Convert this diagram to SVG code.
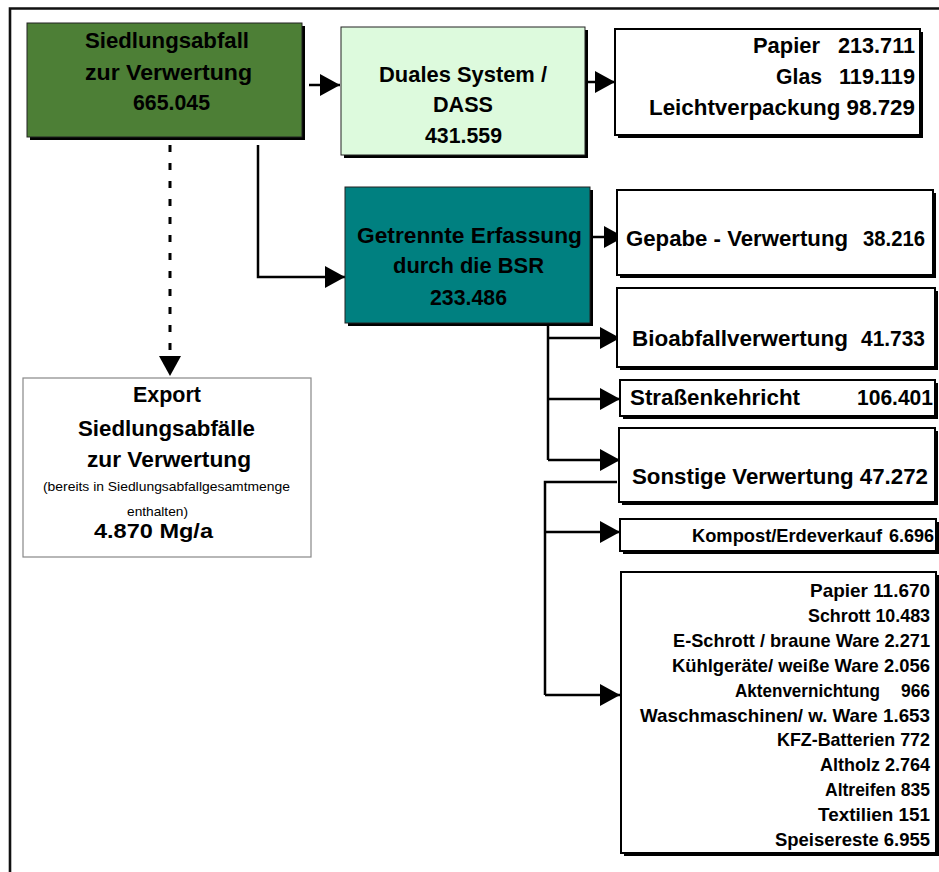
<svg xmlns="http://www.w3.org/2000/svg" width="939" height="872" viewBox="0 0 939 872">
<defs>
<style>
text{font-family:"Liberation Sans",Arial,sans-serif;fill:#000}
.b{font-weight:bold;font-size:22px}
.m{font-weight:bold;font-size:19px}
.s{font-size:13px}
.sh{fill:#000}
.wb{fill:#fff;stroke:#000;stroke-width:2}
.cb{stroke:#222;stroke-width:1}
.c{fill:none;stroke:#000;stroke-width:2.5}
</style>
<marker id="ah" markerUnits="userSpaceOnUse" markerWidth="20" markerHeight="22" refX="20" refY="11" orient="auto" viewBox="0 0 20 22"><path d="M0,0 L20,11 L0,22 z" fill="#000"/></marker>
</defs>
<rect width="939" height="872" fill="#fff"/>
<path d="M10,872 V8.5 H939" fill="none" stroke="#111" stroke-width="2.6"/>

<g id="connectors">
<path class="c" d="M309,85 H340" marker-end="url(#ah)"/>
<path class="c" d="M585,82 H615" marker-end="url(#ah)"/>
<path class="c" d="M258,145 V277 H345" marker-end="url(#ah)"/>
<path fill="none" stroke="#000" stroke-width="3" stroke-dasharray="7 11" d="M170,145 V376" marker-end="url(#ah)"/>
<path class="c" d="M592,237 H624" marker-end="url(#ah)"/>
<path class="c" d="M548,326 V460"/>
<path class="c" d="M548,338 H620" marker-end="url(#ah)"/>
<path class="c" d="M548,399 H620" marker-end="url(#ah)"/>
<path class="c" d="M548,460 H620" marker-end="url(#ah)"/>
<path class="c" d="M617,482 H545 V695"/>
<path class="c" d="M545,532 H620" marker-end="url(#ah)"/>
<path class="c" d="M545,695 H620" marker-end="url(#ah)"/>
</g>

<g id="siedlungsabfall">
<rect class="sh" x="30" y="26" width="275" height="114"/>
<rect class="cb" x="27" y="23" width="275" height="114" fill="#4d7f36"/>
<text class="b" x="85" y="48" textLength="164" lengthAdjust="spacingAndGlyphs">Siedlungsabfall</text>
<text class="b" x="85" y="80" textLength="167" lengthAdjust="spacingAndGlyphs">zur Verwertung</text>
<text class="b" x="133" y="110" textLength="77" lengthAdjust="spacingAndGlyphs">665.045</text>
</g>

<g id="duales">
<rect class="sh" x="344" y="30" width="244" height="128"/>
<rect class="cb" x="341" y="27" width="244" height="128" fill="#ddfadd"/>
<text class="b" x="379" y="82" textLength="168" lengthAdjust="spacingAndGlyphs">Duales System /</text>
<text class="b" x="433" y="112" textLength="60" lengthAdjust="spacingAndGlyphs">DASS</text>
<text class="b" x="425" y="143" textLength="77" lengthAdjust="spacingAndGlyphs">431.559</text>
</g>

<g id="dual-details">
<rect class="sh" x="618" y="32" width="305" height="106"/>
<rect class="wb" x="615" y="29" width="305" height="106"/>
<text class="b" x="753" y="53" textLength="67" lengthAdjust="spacingAndGlyphs">Papier</text>
<text class="b" x="838" y="53" textLength="77" lengthAdjust="spacingAndGlyphs">213.711</text>
<text class="b" x="776" y="84" textLength="46" lengthAdjust="spacingAndGlyphs">Glas</text>
<text class="b" x="839" y="84" textLength="76" lengthAdjust="spacingAndGlyphs">119.119</text>
<text class="b" x="649" y="115" textLength="266" lengthAdjust="spacingAndGlyphs">Leichtverpackung 98.729</text>
</g>

<g id="getrennte">
<rect class="sh" x="348" y="190" width="245" height="136"/>
<rect class="cb" x="345" y="187" width="245" height="136" fill="#008080"/>
<text class="b" x="357" y="243" textLength="225" lengthAdjust="spacingAndGlyphs">Getrennte Erfassung</text>
<text class="b" x="393" y="273" textLength="151" lengthAdjust="spacingAndGlyphs">durch die BSR</text>
<text class="b" x="430" y="305" textLength="77" lengthAdjust="spacingAndGlyphs">233.486</text>
</g>

<g id="export">
<rect x="23" y="378" width="288" height="179" fill="#fff" stroke="#888" stroke-width="1.2"/>
<text class="b" x="133" y="402" textLength="68" lengthAdjust="spacingAndGlyphs">Export</text>
<text class="b" x="78" y="436" textLength="177" lengthAdjust="spacingAndGlyphs">Siedlungsabfälle</text>
<text class="b" x="87" y="467" textLength="164" lengthAdjust="spacingAndGlyphs">zur Verwertung</text>
<text class="s" x="43" y="491" textLength="247" lengthAdjust="spacingAndGlyphs">(bereits in Siedlungsabfallgesamtmenge</text>
<text class="s" x="127" y="516" textLength="61" lengthAdjust="spacingAndGlyphs">enthalten)</text>
<text class="b" x="94" y="538" font-size="20" textLength="119" lengthAdjust="spacingAndGlyphs" style="font-size:20px">4.870 Mg/a</text>
</g>

<g id="gepabe">
<rect class="sh" x="620" y="193" width="316" height="85"/>
<rect class="wb" x="617" y="190" width="316" height="85"/>
<text class="b" x="626" y="246" textLength="222" lengthAdjust="spacingAndGlyphs">Gepabe - Verwertung</text>
<text class="b" x="863" y="246" textLength="62" lengthAdjust="spacingAndGlyphs">38.216</text>
</g>

<g id="bioabfall">
<rect class="sh" x="620" y="291" width="318" height="79"/>
<rect class="wb" x="617" y="288" width="318" height="79"/>
<text class="b" x="632" y="346" textLength="216" lengthAdjust="spacingAndGlyphs">Bioabfallverwertung</text>
<text class="b" x="861" y="346" textLength="64" lengthAdjust="spacingAndGlyphs">41.733</text>
</g>

<g id="strassenkehricht">
<rect class="sh" x="623" y="383" width="315" height="36"/>
<rect class="wb" x="620" y="380" width="315" height="36"/>
<text class="b" x="630" y="405" textLength="170" lengthAdjust="spacingAndGlyphs">Straßenkehricht</text>
<text class="b" x="857" y="405" textLength="76" lengthAdjust="spacingAndGlyphs">106.401</text>
</g>

<g id="sonstige">
<rect class="sh" x="622" y="431" width="316" height="74"/>
<rect class="wb" x="619" y="428" width="316" height="74"/>
<text class="b" x="632" y="484" textLength="296" lengthAdjust="spacingAndGlyphs">Sonstige Verwertung 47.272</text>
</g>

<g id="kompost">
<rect class="sh" x="623" y="522" width="316" height="32"/>
<rect class="wb" x="620" y="519" width="316" height="32"/>
<text class="m" x="692" y="542" textLength="190" lengthAdjust="spacingAndGlyphs">Kompost/Erdeverkauf</text>
<text class="m" x="889" y="542" textLength="45" lengthAdjust="spacingAndGlyphs">6.696</text>
</g>

<g id="sonstige-details">
<rect class="sh" x="624" y="575" width="315" height="281"/>
<rect class="wb" x="621" y="572" width="315" height="281"/>
<text class="m" x="810" y="597" textLength="120" lengthAdjust="spacingAndGlyphs">Papier 11.670</text>
<text class="m" x="808" y="622" textLength="122" lengthAdjust="spacingAndGlyphs">Schrott 10.483</text>
<text class="m" x="673" y="647" textLength="257" lengthAdjust="spacingAndGlyphs">E-Schrott / braune Ware 2.271</text>
<text class="m" x="672" y="672" textLength="258" lengthAdjust="spacingAndGlyphs">Kühlgeräte/ weiße Ware 2.056</text>
<text class="m" x="735" y="697" textLength="145" lengthAdjust="spacingAndGlyphs">Aktenvernichtung</text>
<text class="m" x="901" y="697" textLength="29" lengthAdjust="spacingAndGlyphs">966</text>
<text class="m" x="640" y="722" textLength="290" lengthAdjust="spacingAndGlyphs">Waschmaschinen/ w. Ware 1.653</text>
<text class="m" x="777" y="746" textLength="153" lengthAdjust="spacingAndGlyphs">KFZ-Batterien 772</text>
<text class="m" x="820" y="771" textLength="110" lengthAdjust="spacingAndGlyphs">Altholz 2.764</text>
<text class="m" x="825" y="796" textLength="105" lengthAdjust="spacingAndGlyphs">Altreifen 835</text>
<text class="m" x="818" y="821" textLength="112" lengthAdjust="spacingAndGlyphs">Textilien 151</text>
<text class="m" x="775" y="846" textLength="155" lengthAdjust="spacingAndGlyphs">Speisereste 6.955</text>
</g>
</svg>
